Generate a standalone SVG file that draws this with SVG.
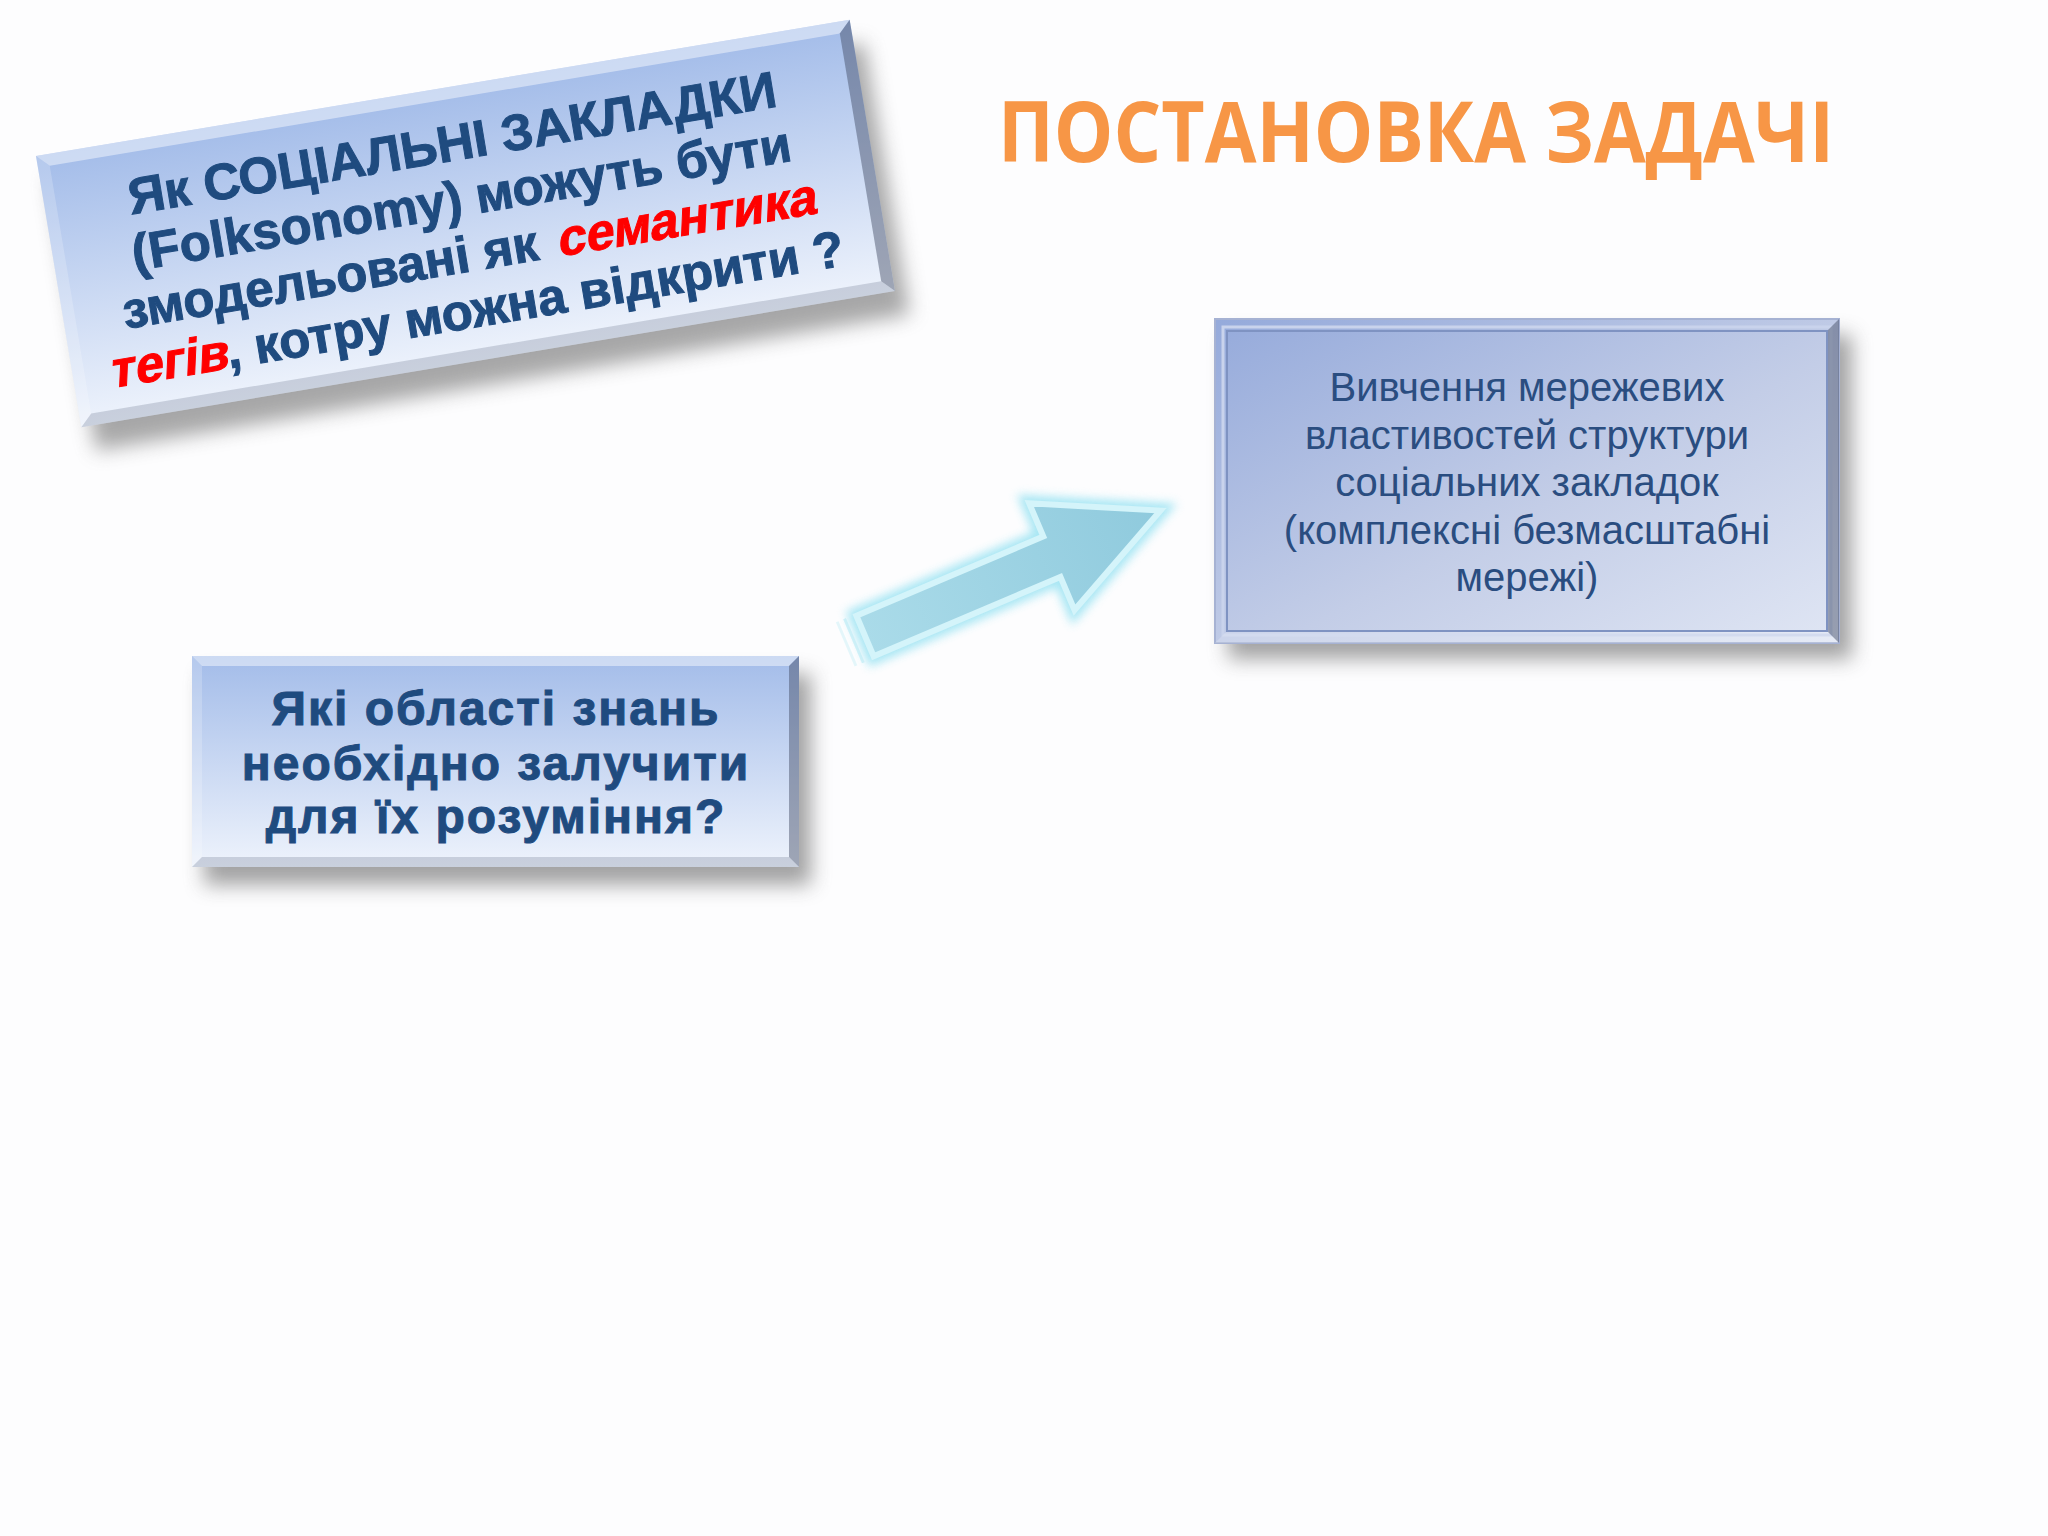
<svg xmlns="http://www.w3.org/2000/svg" width="2048" height="1536" viewBox="0 0 2048 1536">
<style>
.t-bold{font-family:"Liberation Sans",Arial,sans-serif;font-weight:bold;fill:#1f4b7f;stroke:#1f4b7f;stroke-width:1;text-anchor:middle}
.t-red{fill:#ff0000;stroke:#ff0000}
.a-start{text-anchor:start}
.a-end{text-anchor:end}
.t-reg{font-family:"Liberation Sans",Arial,sans-serif;fill:#2a4d80;text-anchor:middle;font-size:40px}
.title{font-family:"Open Sans","Noto Sans",sans-serif;font-weight:bold;fill:#f79646;font-size:84px}
.bev-light{fill:#ffffff;opacity:0.45}
.bev-soft{fill:#ffffff;opacity:0.2}
.bev-dark{fill:#3d4660;opacity:0.45}
.bev-mid{fill:#5c6680;opacity:0.25}
</style>
<defs>
<linearGradient id="gBlueV" x1="0" y1="0" x2="0" y2="1">
<stop offset="0" stop-color="#a3bce9"/>
<stop offset="1" stop-color="#eef3fc"/>
</linearGradient>
<linearGradient id="gRight" x1="0" y1="0" x2="1" y2="1">
<stop offset="0" stop-color="#95aadb"/>
<stop offset="0.55" stop-color="#c3cde7"/>
<stop offset="1" stop-color="#e0e6f4"/>
</linearGradient>
<linearGradient id="gArrow" x1="0" y1="0" x2="1" y2="0">
<stop offset="0" stop-color="#aadbe9"/>
<stop offset="1" stop-color="#8fcadd"/>
</linearGradient>
<filter id="shadow" x="-20%" y="-20%" width="140%" height="150%">
<feGaussianBlur stdDeviation="10"/>
</filter>
<filter id="glow" x="-20%" y="-40%" width="140%" height="180%">
<feGaussianBlur stdDeviation="5"/>
</filter>
</defs>
<rect width="2048" height="1536" fill="#fdfdfe"/>

<text id="title" class="title" x="998" y="162" textLength="836" lengthAdjust="spacingAndGlyphs">ПОСТАНОВКА ЗАДАЧІ</text>

<g id="node-question-rotated" transform="translate(465.5,223.5) rotate(-9.5)">
<rect x="-402" y="-112" width="825" height="275" fill="#6e6e6e" opacity="0.6" filter="url(#shadow)"/>
<rect x="-412.5" y="-137.5" width="825" height="275" fill="url(#gBlueV)"/>
<polygon class="bev-light" points="-412.5,-137.5 412.5,-137.5 400.5,-125.5 -400.5,-125.5"/>
<polygon class="bev-soft" points="-412.5,-137.5 -400.5,-125.5 -400.5,125.5 -412.5,137.5"/>
<polygon class="bev-dark" points="412.5,-137.5 412.5,137.5 400.5,125.5 400.5,-125.5"/>
<polygon class="bev-mid" points="-412.5,137.5 412.5,137.5 400.5,125.5 -400.5,125.5"/>
<text class="t-bold" font-size="51" x="0" y="-64">Як СОЦІАЛЬНІ ЗАКЛАДКИ</text>
<text class="t-bold" font-size="51" x="0" y="-8">(Folksonomy) можуть бути</text>
<text class="t-bold a-end" font-size="51" x="68" y="48">змодельовані як</text>
<g transform="translate(86,48) skewX(-12)">
<text class="t-bold t-red a-start" font-size="51" x="0" y="0">семантика</text>
</g>
<g transform="translate(-257,104) skewX(-12)">
<text class="t-bold t-red a-end" font-size="51" x="0" y="0">тегів</text>
</g>
<text class="t-bold a-start" font-size="51" x="-257" y="104">, котру можна відкрити ?</text>
</g>

<g id="node-network-study">
<rect x="1228" y="335" width="624" height="324" fill="#666666" opacity="0.6" filter="url(#shadow)"/>
<rect x="1215" y="319" width="624" height="324" fill="url(#gRight)" stroke="#a6b2d3" stroke-width="2"/>
<rect x="1223" y="327" width="608" height="308" fill="none" stroke="#c9d3ec" stroke-width="3"/>
<rect x="1227" y="331" width="600" height="300" fill="none" stroke="#7f93c2" stroke-width="2"/>
<polygon class="bev-dark" points="1839,319 1839,643 1828,632 1828,330"/>
<polygon class="bev-soft" points="1215,643 1839,643 1828,632 1226,632"/>
<text class="t-reg" x="1527" y="401">Вивчення мережевих</text>
<text class="t-reg" x="1527" y="449">властивостей структури</text>
<text class="t-reg" x="1527" y="496">соціальних закладок</text>
<text class="t-reg" x="1527" y="544">(комплексні безмасштабні</text>
<text class="t-reg" x="1527" y="591">мережі)</text>
</g>

<g id="node-knowledge-areas">
<rect x="204" y="674" width="607" height="211" fill="#666666" opacity="0.6" filter="url(#shadow)"/>
<rect x="192" y="656" width="607" height="211" fill="url(#gBlueV)"/>
<polygon class="bev-light" points="192,656 799,656 789,666 202,666"/>
<polygon class="bev-soft" points="192,656 202,666 202,857 192,867"/>
<polygon class="bev-dark" points="799,656 799,867 789,857 789,666"/>
<polygon class="bev-mid" points="192,867 799,867 789,857 202,857"/>
<text class="t-bold" font-size="48" letter-spacing="2" x="496" y="725">Які області знань</text>
<text class="t-bold" font-size="48" letter-spacing="2" x="496" y="780">необхідно залучити</text>
<text class="t-bold" font-size="48" letter-spacing="2" x="496" y="833">для їх розуміння?</text>
</g>

<g id="connectors">
<g transform="translate(865,636) rotate(-23)">
<polygon points="0,-22 203,-22 203,-58 321,0 203,58 203,22 0,22" fill="none" stroke="#9fe4f3" stroke-width="16" stroke-linejoin="miter" filter="url(#glow)" opacity="0.9"/>
<line x1="-12" y1="-24" x2="-12" y2="24" stroke="#c5eef7" stroke-width="3" opacity="0.8"/>
<line x1="-20" y1="-24" x2="-20" y2="24" stroke="#d5f3f9" stroke-width="3" opacity="0.6"/>
<polygon points="0,-22 203,-22 203,-58 321,0 203,58 203,22 0,22" fill="url(#gArrow)" stroke="#d4f4fa" stroke-width="6" stroke-linejoin="miter"/>
</g>
</g>
</svg>
